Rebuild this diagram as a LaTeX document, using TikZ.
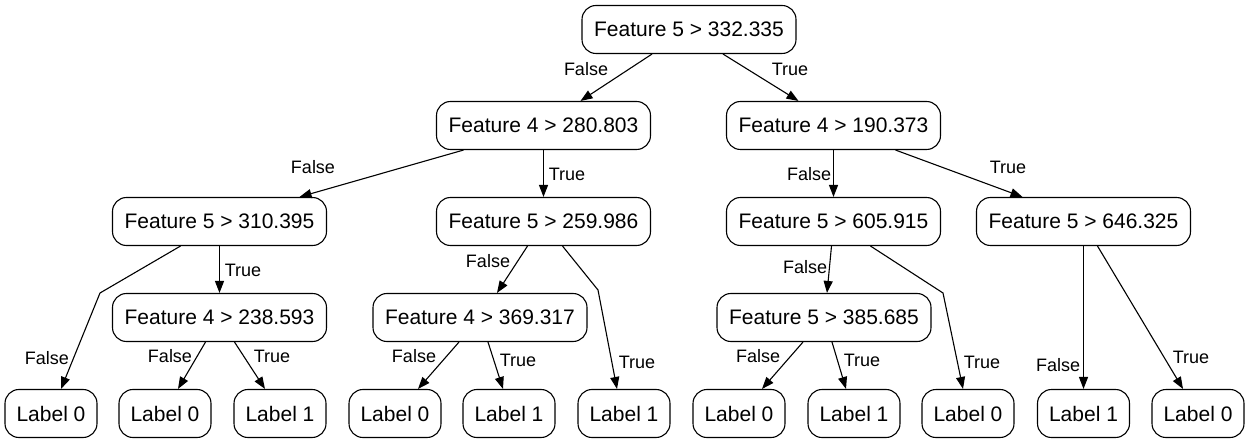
\documentclass[tikz,border=0pt]{standalone}
\usepackage{fontspec}
\setmainfont{Liberation Sans}
\usetikzlibrary{arrows.meta}

\begin{document}
\begin{tikzpicture}[x=1pt, y=-1pt,
    split/.style ={draw, line width=1.1pt, rounded corners=14pt, minimum width=214pt, minimum height=48pt, font=\fontsize{21}{25}\selectfont},
    leaf/.style ={split, minimum width=92pt},
    branch/.style ={line width=1.1pt, -{Triangle[length=12pt,width=9pt]}},
    answer/.style ={font=\fontsize{18}{22}\selectfont, inner sep=0pt}]
   \useasboundingbox (0,0) rectangle (1249,443);
   % splits
   \node[split] (root) at (689,29.5)  {Feature 5 > 332.335};
   \node[split] (L) at (543.5,125.5)  {Feature 4 > 280.803};
   \node[split] (R) at (833.5,125.5)  {Feature 4 > 190.373};
   \node[split] (LL) at (219.5,221.5)  {Feature 5 > 310.395};
   \node[split] (LR) at (543.5,221.5)  {Feature 5 > 259.986};
   \node[split] (RL) at (833.5,221.5)  {Feature 5 > 605.915};
   \node[split] (RR) at (1083.5,221.5)  {Feature 5 > 646.325};
   \node[split] (LLR) at (219.5,317.5)  {Feature 4 > 238.593};
   \node[split] (LRL) at (480,317.5)  {Feature 4 > 369.317};
   \node[split] (RLL) at (824,317.5)  {Feature 5 > 385.685};
   % leaves
   \node[leaf] (A) at (51,413.5)  {Label 0};
   \node[leaf] (B) at (165,413.5)  {Label 0};
   \node[leaf] (C) at (280,413.5)  {Label 1};
   \node[leaf] (D) at (395,413.5)  {Label 0};
   \node[leaf] (E) at (509,413.5)  {Label 1};
   \node[leaf] (F) at (624,413.5)  {Label 1};
   \node[leaf] (G) at (739,413.5)  {Label 0};
   \node[leaf] (H) at (854,413.5)  {Label 1};
   \node[leaf] (I) at (968,413.5)  {Label 0};
   \node[leaf] (J) at (1083.5,413.5)  {Label 1};
   \node[leaf] (K) at (1198,413.5)  {Label 0};
   % bends
   \coordinate (kLL) at (100,293);
   \coordinate (kLR) at (598,290);
   \coordinate (kRL) at (943,293);
   % branches
   \draw[branch] ([xshift=-37pt]root.south) to ([xshift=37pt]L.north);
   \draw[branch] ([xshift=34pt]root.south) to ([xshift=-35pt]R.north);
   \draw[branch] ([xshift=-80pt]L.south) to ([xshift=80pt]LL.north);
   \draw[branch] (L) to (LR);
   \draw[branch] (R) to (RL);
   \draw[branch] ([xshift=62pt]R.south) to ([xshift=-61pt]RR.north);
   \draw[branch] ([xshift=-39pt]LL.south) -- (kLL) -- ([xshift=10pt]A.north);
   \draw[branch] (LL) to (LLR);
   \draw[branch] ([xshift=-14pt]LLR.south) to ([xshift=13pt]B.north);
   \draw[branch] ([xshift=15pt]LLR.south) to ([xshift=-15pt]C.north);
   \draw[branch] ([xshift=-16pt]LR.south) to ([xshift=17pt]LRL.north);
   \draw[branch] ([xshift=19pt]LR.south) -- (kLR) -- ([xshift=-7pt]F.north);
   \draw[branch] ([xshift=-21pt]LRL.south) to ([xshift=23pt]D.north);
   \draw[branch] ([xshift=8pt]LRL.south) to ([xshift=-6pt]E.north);
   \draw[branch] ([xshift=-2pt]RL.south) to ([xshift=3pt]RLL.north);
   \draw[branch] ([xshift=37pt]RL.south) -- (kRL) -- ([xshift=-5pt]I.north);
   \draw[branch] ([xshift=-21pt]RLL.south) to ([xshift=23pt]G.north);
   \draw[branch] ([xshift=8pt]RLL.south) to ([xshift=-8pt]H.north);
   \draw[branch] (RR) to (J);
   \draw[branch] ([xshift=14pt]RR.south) to ([xshift=-15pt]K.north);
   % answers
   \node[answer] (a1) at (586,69) {False};
   \node[answer] (a2) at (790,69) {True};
   \node[answer] (a3) at (313,167) {False};
   \node[answer] (a4) at (567,174) {True};
   \node[answer] (a5) at (809,174) {False};
   \node[answer] (a6) at (1008,167) {True};
   \node[answer] (a7) at (47,358) {False};
   \node[answer] (a8) at (243,270) {True};
   \node[answer] (a9) at (170,356) {False};
   \node[answer] (a10) at (272,356) {True};
   \node[answer] (a11) at (488,261) {False};
   \node[answer] (a12) at (637,362) {True};
   \node[answer] (a13) at (414,356) {False};
   \node[answer] (a14) at (518,360) {True};
   \node[answer] (a15) at (805,267) {False};
   \node[answer] (a16) at (982,362) {True};
   \node[answer] (a17) at (758,356) {False};
   \node[answer] (a18) at (862,360) {True};
   \node[answer] (a19) at (1058,365) {False};
   \node[answer] (a20) at (1191,357) {True};
 \end{tikzpicture}
\end{document}
